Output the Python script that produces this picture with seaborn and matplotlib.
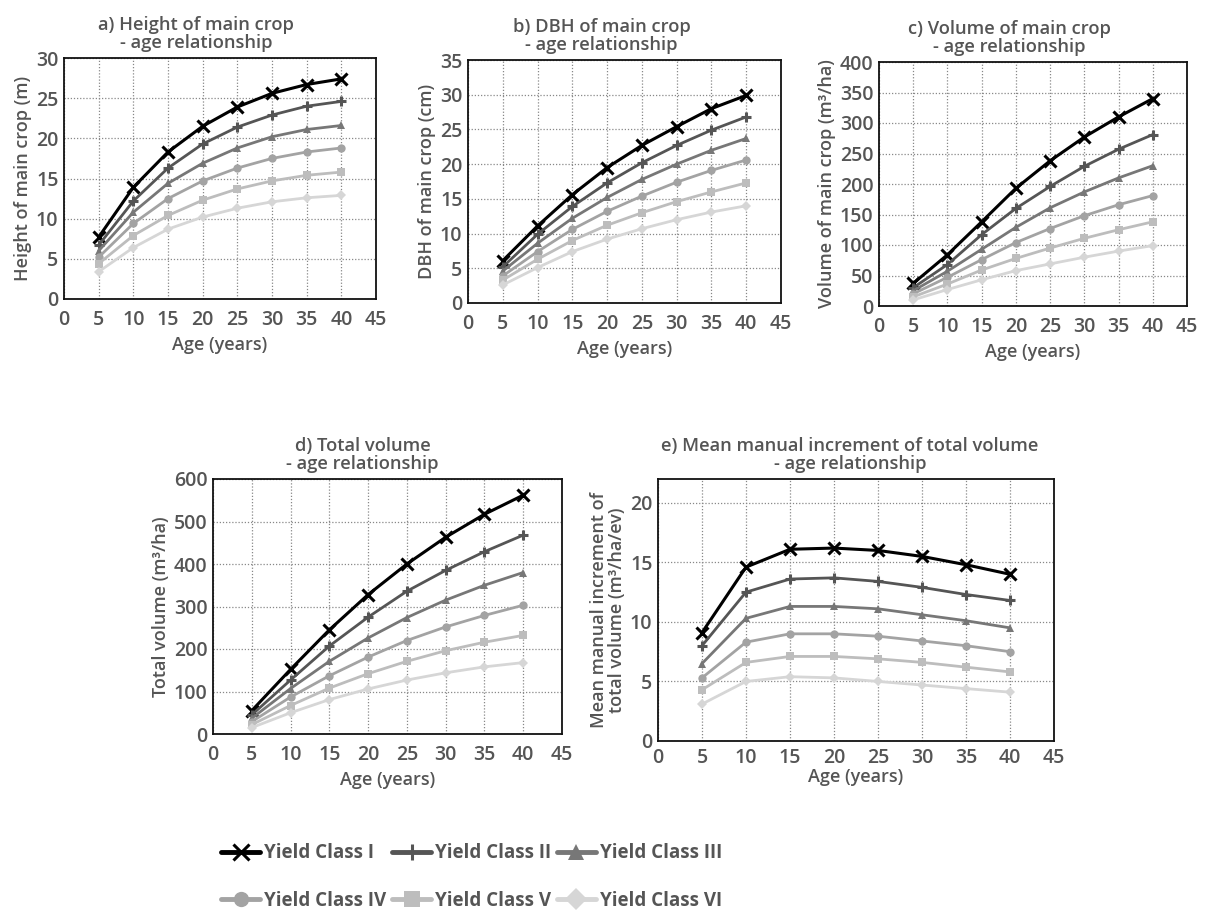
import numpy as np
import pandas as pd
import matplotlib
matplotlib.use("Agg")
import matplotlib.pyplot as plt
import seaborn as sns

ages = [5, 10, 15, 20, 25, 30, 35, 40]
classes = ["Yield Class I", "Yield Class II", "Yield Class III",
           "Yield Class IV", "Yield Class V", "Yield Class VI"]

height = {
    "Yield Class I":   [7.7, 13.9, 18.3, 21.5, 23.9, 25.6, 26.7, 27.4],
    "Yield Class II":  [6.7, 12.2, 16.3, 19.3, 21.4, 22.9, 24.0, 24.6],
    "Yield Class III": [6.0, 10.8, 14.4, 16.9, 18.8, 20.2, 21.1, 21.6],
    "Yield Class IV":  [5.2, 9.4, 12.5, 14.7, 16.3, 17.5, 18.3, 18.8],
    "Yield Class V":   [4.4, 7.9, 10.4, 12.3, 13.7, 14.7, 15.4, 15.8],
    "Yield Class VI":  [3.4, 6.4, 8.7, 10.2, 11.3, 12.1, 12.6, 12.9],
}
dbh = {
    "Yield Class I":   [6.1, 11.1, 15.6, 19.5, 22.7, 25.4, 28.0, 29.9],
    "Yield Class II":  [5.2, 9.9, 13.9, 17.3, 20.2, 22.7, 24.9, 26.8],
    "Yield Class III": [4.6, 8.6, 12.2, 15.2, 17.8, 20.0, 22.0, 23.7],
    "Yield Class IV":  [3.9, 7.4, 10.6, 13.2, 15.4, 17.4, 19.1, 20.6],
    "Yield Class V":   [3.3, 6.3, 9.0, 11.2, 13.0, 14.6, 16.0, 17.3],
    "Yield Class VI":  [2.6, 5.1, 7.4, 9.2, 10.7, 12.0, 13.1, 14.0],
}
volume_main = {
    "Yield Class I":   [37, 84, 138, 193, 238, 277, 310, 340],
    "Yield Class II":  [30, 68, 117, 160, 196, 229, 257, 281],
    "Yield Class III": [25, 57, 93, 129, 161, 187, 210, 230],
    "Yield Class IV":  [20, 47, 76, 104, 127, 148, 166, 181],
    "Yield Class V":   [15, 36, 59, 78, 95, 111, 125, 138],
    "Yield Class VI":  [10, 27, 43, 58, 69, 80, 90, 99],
}
volume_total = {
    "Yield Class I":   [55, 152, 245, 328, 400, 463, 517, 562],
    "Yield Class II":  [45, 127, 207, 275, 336, 385, 429, 468],
    "Yield Class III": [37, 107, 171, 226, 274, 315, 350, 380],
    "Yield Class IV":  [29, 87, 137, 181, 220, 252, 279, 303],
    "Yield Class V":   [22, 67, 108, 142, 171, 196, 216, 232],
    "Yield Class VI":  [15, 50, 81, 106, 127, 144, 158, 168],
}
mai = {
    "Yield Class I":   [9.1, 14.6, 16.1, 16.2, 16.0, 15.5, 14.8, 14.0],
    "Yield Class II":  [8.0, 12.5, 13.6, 13.7, 13.4, 12.9, 12.3, 11.8],
    "Yield Class III": [6.5, 10.3, 11.3, 11.3, 11.1, 10.6, 10.1, 9.5],
    "Yield Class IV":  [5.3, 8.3, 9.0, 9.0, 8.8, 8.4, 8.0, 7.5],
    "Yield Class V":   [4.3, 6.6, 7.1, 7.1, 6.9, 6.6, 6.2, 5.8],
    "Yield Class VI":  [3.1, 5.0, 5.4, 5.3, 5.0, 4.7, 4.4, 4.1],
}

colors = {
    "Yield Class I": "#000000",
    "Yield Class II": "#555555",
    "Yield Class III": "#777777",
    "Yield Class IV": "#a3a3a3",
    "Yield Class V": "#bdbdbd",
    "Yield Class VI": "#d6d6d6",
}
markers = {
    "Yield Class I": "x",
    "Yield Class II": "+",
    "Yield Class III": "^",
    "Yield Class IV": "o",
    "Yield Class V": "s",
    "Yield Class VI": "D",
}
msizes = {
    "Yield Class I": 9, "Yield Class II": 7, "Yield Class III": 6,
    "Yield Class IV": 6, "Yield Class V": 5.5, "Yield Class VI": 5,
}

sns.set_theme(style="white")
plt.rcParams["font.family"] = ["Open Sans", "DejaVu Sans"]
TXT = "#555555"

W, H = 1212, 915
fig = plt.figure(figsize=(W / 100, H / 100), dpi=100)


def px_axes(l, t, r, b):
    return fig.add_axes([l / W, 1 - b / H, (r - l) / W, (b - t) / H])


panels = [
    (height, (64, 58, 376, 299), (0, 30), 5, "a) Height of main crop\n- age relationship",
     "Height of main crop (m)", 24, 8, 4),
    (dbh, (468, 60, 781, 303), (0, 35), 5, "b) DBH of main crop\n- age relationship",
     "DBH of main crop (cm)", 23, 8, 4),
    (volume_main, (879, 62, 1187, 306), (0, 400), 50, "c) Volume of main crop\n- age relationship",
     "Volume of main crop (m³/ha)", 24, 8, 4),
    (volume_total, (213, 479, 562, 734), (0, 600), 100, "d) Total volume\n- age relationship",
     "Total volume (m³/ha)", 25, 8, 4),
    (mai, (658, 479, 1054, 741), (0, 22), 5,
     "e) Mean manual increment of total volume\n- age relationship",
     "Mean manual increment of\ntotal volume (m³/ha/ev)", 6, 5, 0),
]

handles = None
for data, box, ylim, ystep, title, ylabel, tshift, xpad, xlpad in panels:
    ax = px_axes(*box)
    rows = []
    for c in classes:
        for a, v in zip(ages, data[c]):
            rows.append({"Age": a, "value": v, "cls": c})
    df = pd.DataFrame(rows)
    for c in classes:
        sub = df[df["cls"] == c]
        lw = 2.2 if c == "Yield Class I" else 2.0
        sns.lineplot(data=sub, x="Age", y="value", ax=ax, color=colors[c],
                     marker=markers[c], markersize=msizes[c], linewidth=lw,
                     markeredgewidth=2.2 if markers[c] in ("x", "+") else 0,
                     markeredgecolor=colors[c], label=c, legend=True)
    ax.set_xlim(0, 45)
    ax.set_ylim(*ylim)
    ax.set_xticks(range(0, 46, 5))
    ax.set_yticks(np.arange(0, ylim[1] + 0.01, ystep))
    ax.grid(True, linestyle=(0, (1, 1.5)), color="#888888", linewidth=0.9)
    ax.set_axisbelow(True)
    for s in ax.spines.values():
        s.set_color("#111111")
        s.set_linewidth(1.3)
    ax.tick_params(axis="x", labelsize=14, colors=TXT, length=0, pad=xpad)
    ax.tick_params(axis="y", labelsize=14, colors=TXT, length=0, pad=4)
    for lab in ax.get_xticklabels() + ax.get_yticklabels():
        lab.set_fontweight("semibold")
    axw = box[2] - box[0]
    ax.set_title(title, fontsize=13.2, color=TXT, fontweight="semibold",
                 linespacing=1.05, pad=7, x=0.5 - tshift / axw)
    ax.set_xlabel("Age (years)", fontsize=13, color=TXT, fontweight="semibold",
                  labelpad=xlpad)
    ax.set_ylabel(ylabel, fontsize=13, color=TXT, fontweight="semibold",
                  labelpad=3, linespacing=1.0)
    h, l = ax.get_legend_handles_labels()
    handles = dict(zip(l, h))
    ax.get_legend().remove()

order = ["Yield Class I", "Yield Class IV", "Yield Class II",
         "Yield Class V", "Yield Class III", "Yield Class VI"]
leg = fig.legend([handles[k] for k in order], order, ncol=3,
                 loc="center left", bbox_to_anchor=(221 / W, 1 - 877 / H),
                 frameon=False, handlelength=2.1, borderpad=0, borderaxespad=0,
                 prop={"family": ["Open Sans"], "size": 13.5, "weight": "bold"},
                 handletextpad=0.2, columnspacing=0.3, labelspacing=1.45)
for t in leg.get_texts():
    t.set_color(TXT)
for lh in leg.legend_handles:
    lh.set_linewidth(3.5)
    lh.set_markersize(11)

fig.savefig("out.png", dpi=100)
